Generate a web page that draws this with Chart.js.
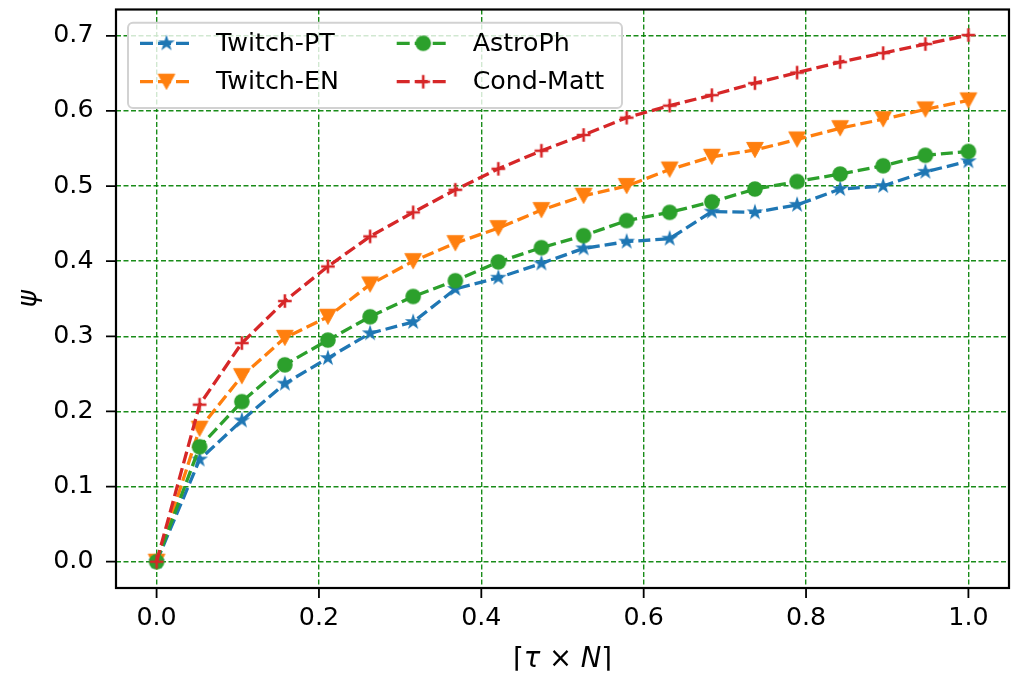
<!DOCTYPE html>
<html>
<head>
<meta charset="utf-8">
<title>psi vs tau x N</title>
<script src="https://cdn.jsdelivr.net/npm/chart.js@4.4.0/dist/chart.umd.min.js"></script>
<style>
  html, body { margin: 0; padding: 0; background: #fff; }
  #wrap { width: 1016px; height: 673px; }
</style>
</head>
<body>
<div id="wrap"><canvas id="chart" width="1016" height="673"></canvas></div>
<script>
// values
const xValues = [0.0, 0.053, 0.105, 0.158, 0.211, 0.263, 0.316, 0.368, 0.421, 0.474,
                 0.526, 0.579, 0.632, 0.684, 0.737, 0.789, 0.842, 0.895, 0.947, 1.0];

const twitchPT = [0.0, 0.136, 0.188, 0.237, 0.271, 0.304, 0.319, 0.363, 0.378, 0.397,
                  0.417, 0.426, 0.430, 0.466, 0.465, 0.475, 0.496, 0.500, 0.519, 0.533];
const twitchEN = [0.0, 0.177, 0.247, 0.298, 0.326, 0.369, 0.400, 0.424, 0.444, 0.468,
                  0.487, 0.500, 0.522, 0.539, 0.548, 0.562, 0.577, 0.589, 0.602, 0.614];
const astroPh  = [0.0, 0.153, 0.213, 0.262, 0.295, 0.326, 0.353, 0.374, 0.399, 0.418,
                  0.434, 0.454, 0.465, 0.479, 0.496, 0.506, 0.516, 0.527, 0.541, 0.546];
const condMatt = [0.0, 0.209, 0.291, 0.347, 0.393, 0.433, 0.465, 0.495, 0.523, 0.547,
                  0.568, 0.591, 0.607, 0.621, 0.637, 0.651, 0.665, 0.677, 0.689, 0.701];

const seriesLabels = ['Twitch-PT', 'Twitch-EN', 'AstroPh', 'Cond-Matt'];
const seriesColors = ['#1f77b4', '#ff7f0e', '#2ca02c', '#d62728'];
const seriesMarkers = ['star', 'tri_down', 'circle', 'plus'];

const xTicks = [0.0, 0.2, 0.4, 0.6, 0.8, 1.0];
const yTicks = [0.0, 0.1, 0.2, 0.3, 0.4, 0.5, 0.6, 0.7];

const FONT = "'DejaVu Sans', sans-serif";
const LINE_DASH = [12, 5];

// marker images, matplotlib style
function makeMarker(kind, color) {
  const c = document.createElement('canvas');
  c.width = 26; c.height = 26;
  const g = c.getContext('2d');
  g.translate(13, 13);
  g.fillStyle = color;
  g.strokeStyle = color;
  g.lineJoin = 'miter';
  if (kind == 'star') {
    const R = 6.8;
    g.beginPath();
    for (let k = 0; k < 10; k++) {
      const r = k % 2 ? R * 0.382 : R;
      const a = -Math.PI / 2 + k * Math.PI / 5;
      g.lineTo(r * Math.cos(a), r * Math.sin(a));
    }
    g.closePath();
    g.fill();
    g.lineWidth = 1.2;
    g.stroke();
  } else if (kind == 'tri_down') {
    g.beginPath();
    g.moveTo(-8.3, -7.6);
    g.lineTo(8.3, -7.6);
    g.lineTo(0, 7.6);
    g.closePath();
    g.fill();
    g.lineWidth = 1;
    g.stroke();
  } else if (kind == 'circle') {
    g.beginPath();
    g.arc(0, 0, 7.8, 0, Math.PI * 2);
    g.fill();
  } else {
    g.lineWidth = 2.6;
    g.beginPath();
    g.moveTo(-6.8, 0); g.lineTo(6.8, 0);
    g.moveTo(0, -6.8); g.lineTo(0, 6.8);
    g.stroke();
  }
  return c;
}

const allValues = [twitchPT, twitchEN, astroPh, condMatt];
const markerImgs = seriesMarkers.map((m, i) => makeMarker(m, seriesColors[i]));

const datasets = allValues.map((vals, i) => ({
  label: seriesLabels[i],
  data: xValues.map((x, j) => ({x: x, y: vals[j]})),
  borderColor: seriesColors[i],
  backgroundColor: seriesColors[i],
  borderWidth: 3.3,
  borderDash: LINE_DASH,
  pointStyle: markerImgs[i],
  pointRadius: 7,
  tension: 0,
  order: allValues.length - i,
}));

// frame, tick marks, legend and x title
const decor = {
  id: 'decor',
  afterDatasetsDraw(chart) {
    const ctx = chart.ctx;
    const a = chart.chartArea;
    const xs = chart.scales.x, ys = chart.scales.y;
    ctx.save();
    ctx.setLineDash([]);
    ctx.strokeStyle = '#000';
    ctx.lineWidth = 1.8;
    ctx.beginPath();
    xTicks.forEach(v => {
      const px = xs.getPixelForValue(v);
      ctx.moveTo(px, a.bottom); ctx.lineTo(px, a.bottom + 10);
    });
    yTicks.forEach(v => {
      const py = ys.getPixelForValue(v);
      ctx.moveTo(a.left, py); ctx.lineTo(a.left - 10, py);
    });
    ctx.stroke();
    ctx.lineWidth = 2.2;
    ctx.strokeRect(a.left, a.top, a.right - a.left, a.bottom - a.top);

    // legend
    const lx = a.left + 12, ly = a.top + 13.2;
    ctx.beginPath();
    ctx.roundRect(lx, ly, 494, 85.3, 5);
    ctx.fillStyle = 'rgba(255,255,255,0.8)';
    ctx.fill();
    ctx.strokeStyle = '#d2d2d2';
    ctx.lineWidth = 2;
    ctx.stroke();

    const cols = [lx + 12, lx + 268.7];
    const rows = [ly + 20.6, ly + 59];
    ctx.font = '25.3px ' + FONT;
    ctx.textBaseline = 'middle';
    ctx.textAlign = 'left';
    chart.data.datasets.forEach((ds, i) => {
      const cx = cols[Math.floor(i / 2)];
      const cy = rows[i % 2];
      ctx.strokeStyle = ds.borderColor;
      ctx.lineWidth = 3.3;
      ctx.setLineDash([13, 5]);
      ctx.beginPath();
      ctx.moveTo(cx, cy); ctx.lineTo(cx + 53, cy);
      ctx.stroke();
      ctx.setLineDash([]);
      const img = ds.pointStyle;
      ctx.drawImage(img, cx + 26.5 - img.width / 2, cy - img.height / 2);
      ctx.fillStyle = '#000';
      ctx.fillText(ds.label, cx + 76, cy + 1);
    });

    // x axis title: ⌈τ × N⌉ with italic symbols
    const parts = [['⌈', ''], ['τ', 'italic '], [' × ', ''], ['N', 'italic '], ['⌉', '']];
    ctx.textBaseline = 'alphabetic';
    let total = 0;
    parts.forEach(p => { ctx.font = p[1] + '27.5px ' + FONT; total += ctx.measureText(p[0]).width; });
    let tx = (a.left + a.right) / 2 - total / 2;
    parts.forEach(p => {
      ctx.font = p[1] + '27.5px ' + FONT;
      ctx.fillText(p[0], tx, 667);
      tx += ctx.measureText(p[0]).width;
    });
    ctx.restore();
  }
};

const gridOpts = { color: 'rgba(0,128,0,0.9)', lineWidth: 1.4, drawTicks: false };

new Chart(document.getElementById('chart'), {
  type: 'line',
  data: { datasets: datasets },
  plugins: [decor],
  options: {
    responsive: false,
    animation: false,
    devicePixelRatio: 1,
    layout: { autoPadding: false, padding: { top: 9.5, right: 7, left: 0, bottom: 0 } },
    plugins: {
      legend: { display: false },
      tooltip: { enabled: false },
    },
    scales: {
      x: {
        type: 'linear',
        min: -0.05,
        max: 1.05,
        afterBuildTicks: s => { s.ticks = xTicks.map(v => ({value: v})); },
        afterFit: s => { s.height = 85; s.paddingLeft = 0; s.paddingRight = 0; },
        grid: gridOpts,
        border: { display: false, dash: [5, 2.5] },
        ticks: {
          padding: 15,
          color: '#000',
          font: { family: FONT, size: 25.3 },
          maxRotation: 0,
          autoSkip: false,
          callback: v => v.toFixed(1),
        },
      },
      y: {
        type: 'linear',
        min: -0.035,
        max: 0.735,
        afterBuildTicks: s => { s.ticks = yTicks.map(v => ({value: v})); },
        afterFit: s => { s.width = 116; s.paddingTop = 0; s.paddingBottom = 0; },
        grid: gridOpts,
        border: { display: false, dash: [5, 2.5] },
        title: {
          display: true,
          text: 'ψ',
          color: '#000',
          font: { family: FONT, size: 26, style: 'italic' },
          padding: { top: 13.5, bottom: 0 },
        },
        ticks: {
          padding: 22.5,
          color: '#000',
          font: { family: FONT, size: 25.3 },
          autoSkip: false,
          callback: v => v.toFixed(1),
        },
      },
    },
  },
});
</script>
</body>
</html>
